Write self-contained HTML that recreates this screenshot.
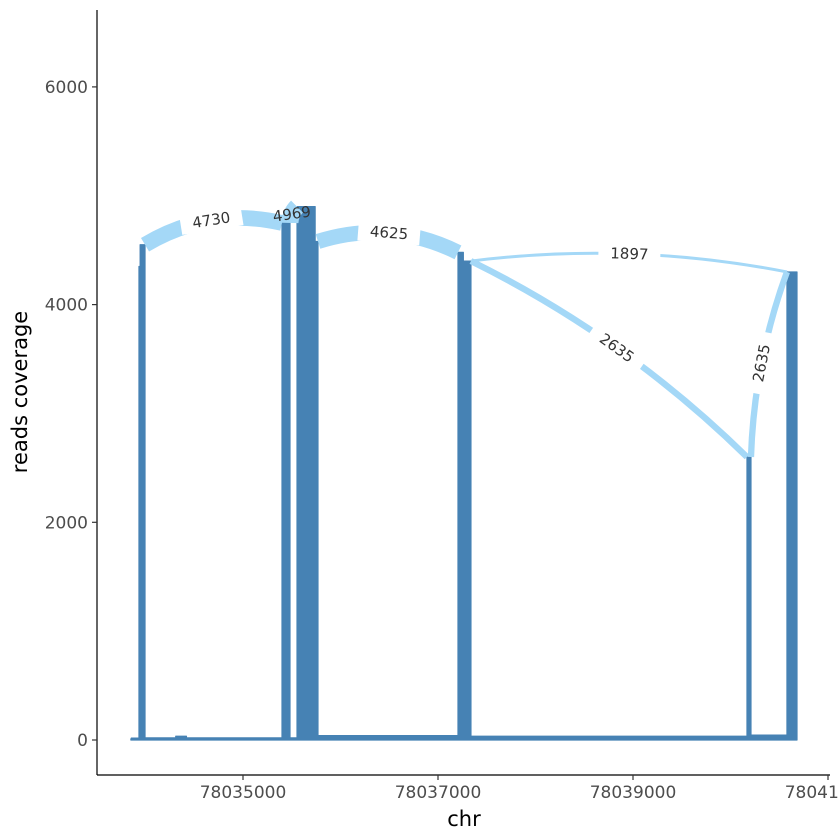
<!DOCTYPE html>
<html><head><meta charset="utf-8"><style>
html,body{margin:0;padding:0;background:#fff;}
svg{display:block;font-family:"DejaVu Sans","Liberation Sans",sans-serif;}
</style></head><body>
<svg id="chart" width="840" height="840" viewBox="0 0 840 840">
<g id="cov"></g>
<g id="junc"></g>
<g id="axes"></g>
</svg>
<script>
const covStart = [78033850,78033933,78033945,78033995,78034310,78034420,78035400,78035482,78035554,78035740,78035769,78037205,78037260,78037338,78040169,78040210,78040579];
const covEnd   = [78033933,78033945,78033995,78034310,78034420,78035400,78035482,78035554,78035740,78035769,78037205,78037260,78037338,78040169,78040210,78040579,78040682];
const covVal   = [10,4350,4550,20,35,20,4750,20,4900,4580,40,4480,4400,35,2600,45,4300];

const juncStart = [78033995,78035482,78035769,78037338,78037338,78040210];
const juncEnd   = [78035400,78035554,78037205,78040169,78040579,78040579];
const juncCount = [4730,4969,4625,2635,1897,2635];

const xTicks = [78035000,78037000,78039000,78041000];
const yTicks = [0,2000,4000,6000];

const NS="http://www.w3.org/2000/svg";
function x(g){return 243+(g-78035000)*195/2000;}
function y(v){return 740-v*0.10885;}
function mk(tag,attrs,parent){const e=document.createElementNS(NS,tag);for(const k in attrs)e.setAttribute(k,attrs[k]);parent.appendChild(e);return e;}
function covAt(g){for(let i=0;i<covStart.length;i++){if(g>=covStart[i]&&g<covEnd[i])return covVal[i];}return 0;}
function covAtLeft(g){for(let i=0;i<covStart.length;i++){if(g>covStart[i]&&g<=covEnd[i])return covVal[i];}return 0;}

const cov=document.getElementById('cov');
let pts=[[x(covStart[0]),y(0)]];
for(let i=0;i<covStart.length;i++){pts.push([x(covStart[i]),y(covVal[i])]);pts.push([x(covEnd[i]),y(covVal[i])]);}
pts.push([x(covEnd[covEnd.length-1]),y(0)]);
const poly=mk('polygon',{points:pts.map(p=>p.join(',')).join(' '),fill:'#4682B4',stroke:'#4682B4','stroke-width':1.2,'stroke-linejoin':'round'},cov);


const base=mk('line',{x1:x(covStart[0]),y1:y(0)-1,x2:x(covEnd[covEnd.length-1]),y2:y(0)-1,stroke:'#4682B4','stroke-width':3},cov);



const junc=document.getElementById('junc');
for(let i=0;i<juncStart.length;i++){
  const x0=x(juncStart[i]),y0=y(covAtLeft(juncStart[i]));
  const x2=x(juncEnd[i]),y2=y(covAt(juncEnd[i]));
  const dx=x2-x0,dy=y2-y0,len=Math.hypot(dx,dy);
  const c=len<150?0.2*len:0.08*len;
  const nx=dy/len,ny=-dx/len;
  const cx=(x0+x2)/2+nx*c,cy=(y0+y2)/2+ny*c;
  const w=3+(juncCount[i]-1897)*0.0045;
  const p=mk('path',{d:`M${x0},${y0} Q${cx},${cy} ${x2},${y2}`,fill:'none',stroke:'#A4D8F7','stroke-width':w},junc);
  
  
  const lx=0.25*x0+0.5*cx+0.25*x2,ly=0.25*y0+0.5*cy+0.25*y2;
  const ang=len<40?-8:Math.atan2(dy,dx)*180/Math.PI;
  const g=mk('g',{transform:`translate(${lx},${ly}) rotate(${ang})`},junc);
  
  
  if(len>40) mk('rect',{x:-31,y:-10,width:62,height:20,fill:'#fff'},g);
  const t=mk('text',{x:0,y:5,'text-anchor':'middle','font-size':15,fill:'#333'},g);
  t.textContent=juncCount[i];
}

const ax=document.getElementById('axes');
let l=mk('line',{x1:97,y1:10,x2:97,y2:775,stroke:'#000','stroke-width':1.2},ax);

l=mk('line',{x1:97,y1:775,x2:830,y2:775,stroke:'#000','stroke-width':1.2},ax);

yTicks.forEach(v=>{
  mk('line',{x1:92,y1:y(v),x2:97,y2:y(v),stroke:'#333','stroke-width':1.2},ax);
  const t=mk('text',{x:88,y:y(v)+6,'text-anchor':'end','font-size':17,fill:'#4d4d4d'},ax);
  
  
  t.textContent=v;
});
xTicks.forEach(v=>{
  mk('line',{x1:x(v),y1:775,x2:x(v),y2:780,stroke:'#333','stroke-width':1.2},ax);
  const t=mk('text',{x:x(v),y:798,'text-anchor':'middle','font-size':17,fill:'#4d4d4d'},ax);
  
  
  t.textContent=v;
});
let t=mk('text',{x:464,y:826,'text-anchor':'middle','font-size':21,fill:'#000'},ax);
t.textContent='chr';
t=mk('text',{x:0,y:0,transform:'translate(27,392) rotate(-90)','text-anchor':'middle','font-size':21,fill:'#000'},ax);
t.textContent='reads coverage';
</script>
</body></html>
